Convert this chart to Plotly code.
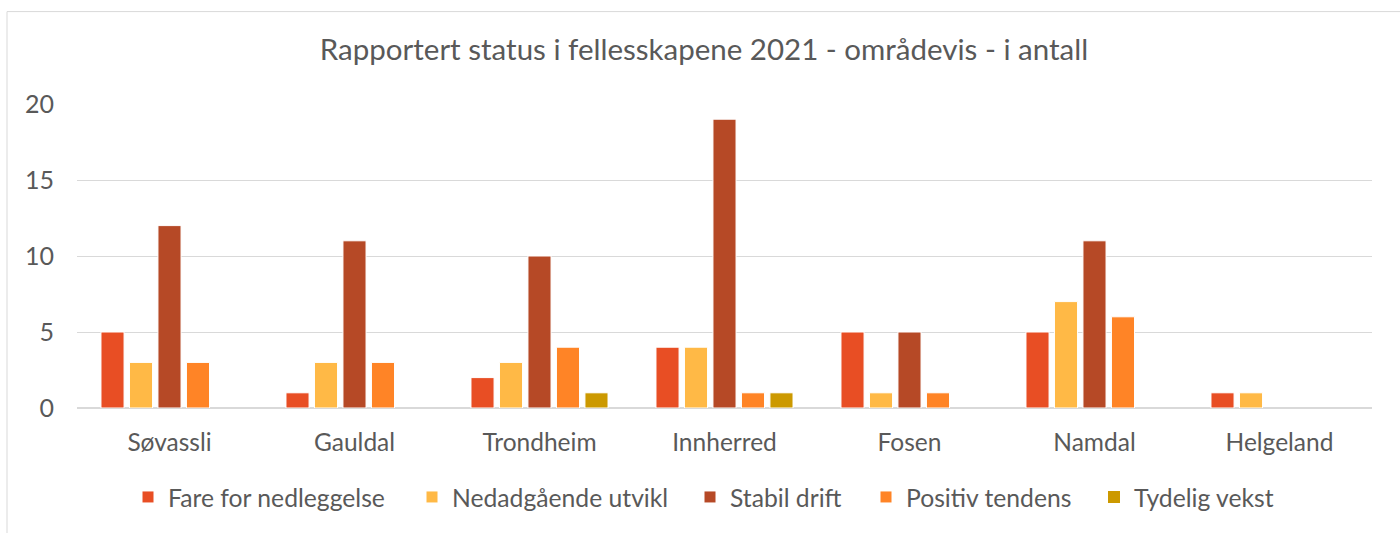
import plotly.graph_objects as go

categories = ["Søvassli", "Gauldal", "Trondheim", "Innherred", "Fosen", "Namdal", "Helgeland"]
series_names = ["Fare for nedleggelse", "Nedadgående utvikl", "Stabil drift", "Positiv tendens", "Tydelig vekst"]
fare = [5, 1, 2, 4, 5, 5, 1]
nedadgaende = [3, 3, 3, 4, 1, 7, 1]
stabil = [12, 11, 10, 19, 5, 11, 0]
positiv = [3, 3, 4, 1, 1, 6, 0]
tydelig = [0, 0, 1, 1, 0, 0, 0]
colors = ["#E84E24", "#FFB946", "#B64926", "#FF8426", "#CC9900"]
y_ticks = [0, 5, 10, 15, 20]

FONT = "Lato, Open Sans, sans-serif"
GREY = "#595959"

# legend text start positions (px) for each entry
legend_text_px = [168, 452, 730, 906, 1134]
PL, PW = 77, 1295

fig = go.Figure()
legend_keys = ["legend", "legend2", "legend3", "legend4", "legend5"]
for name, vals, col, lk in zip(series_names, [fare, nedadgaende, stabil, positiv, tydelig], colors, legend_keys):
    fig.add_trace(go.Bar(
        x=categories, y=vals, name=name, legend=lk,
        marker=dict(color=col,
                    line=dict(color=["#FFFFFF" if v else "rgba(0,0,0,0)" for v in vals], width=1)),
    ))

legend_layout = {}
for lk, tx in zip(legend_keys, legend_text_px):
    legend_layout[lk] = dict(orientation="h", x=(tx - 40 - PL) / PW, xanchor="left",
                             y=(410 - 500) / 306, yanchor="middle",
                             font=dict(size=24.7, color=GREY), itemwidth=30,
                             bgcolor="rgba(0,0,0,0)")

fig.update_layout(
    width=1400, height=533,
    barmode="group", bargap=0.23, bargroupgap=0.19,
    paper_bgcolor="white", plot_bgcolor="white",
    margin=dict(l=PL, r=28, t=104, b=123),
    font=dict(family=FONT, color=GREY, size=25),
    title=dict(text="Rapportert status i fellesskapene 2021 - områdevis - i antall",
               x=(704 - PL) / PW, xref="paper", xanchor="center", y=1 - 50 / 533, yanchor="middle",
               font=dict(size=29.5, color=GREY, family=FONT)),
    showlegend=True,
    **legend_layout,
)
fig.update_yaxes(range=[0, 20], tickvals=y_ticks, showgrid=True, gridcolor="#D9D9D9",
                 gridwidth=1, zeroline=True, zerolinecolor="#D9D9D9", showline=False,
                 ticks="", ticklabelstandoff=22, tickfont=dict(size=25, color=GREY))
fig.update_xaxes(showline=True, linecolor="#D9D9D9", ticks="", ticklabelstandoff=13,
                 tickfont=dict(size=24.5, color=GREY))

fig.add_shape(type="rect", xref="paper", yref="paper",
              x0=(7 - PL) / PW, x1=1.2, y0=-1, y1=(410 - 11) / 306,
              line=dict(color="#D9D9D9", width=1), fillcolor="rgba(0,0,0,0)", layer="below")

fig.write_html("out.html", config={"displayModeBar": False},
               post_script="document.body.style.margin='0';")
